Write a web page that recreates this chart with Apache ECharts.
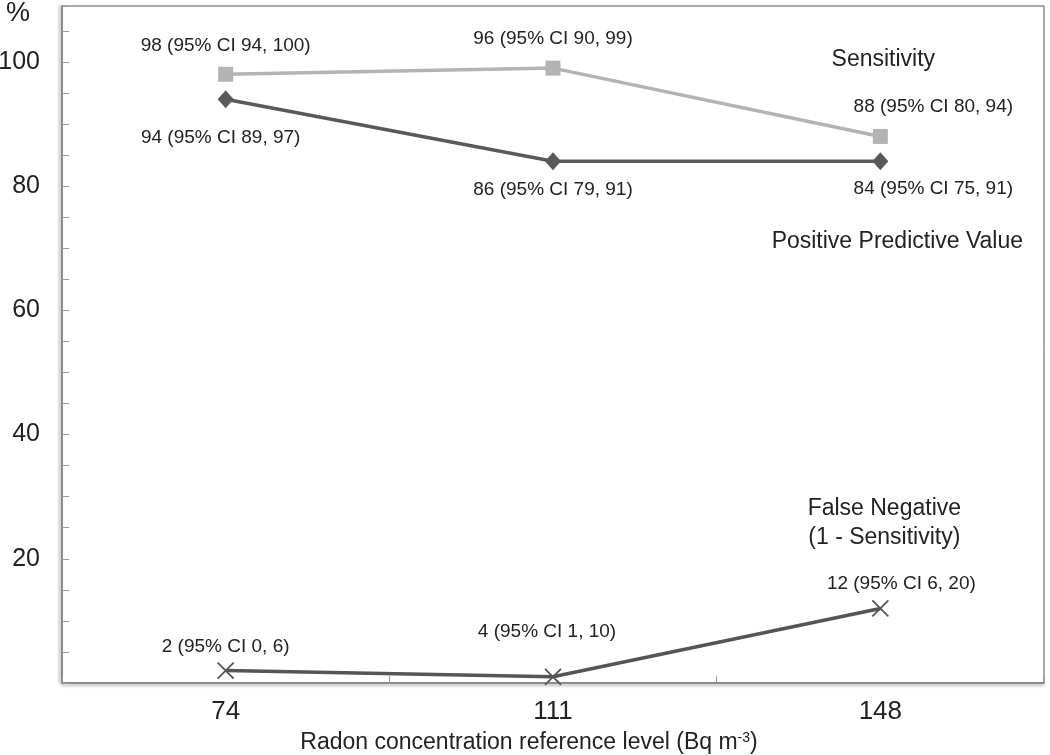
<!DOCTYPE html>
<html>
<head>
<meta charset="utf-8">
<script src="https://cdn.jsdelivr.net/npm/echarts@6/dist/echarts.min.js"></script>
<style>html,body{margin:0;padding:0;background:#fff}#c{width:1050px;height:755px}</style>
</head>
<body>
<div id="c"></div>
<script>
var categories = ['74', '111', '148'];
var sensitivity = [98, 99, 88];
var ppv = [94, 84, 84];
var falseNegative = [2, 1, 12];
var sensLabels = ['98 (95% CI 94, 100)', '96 (95% CI 90, 99)', '88 (95% CI 80, 94)'];
var ppvLabels = ['94 (95% CI 89, 97)', '86 (95% CI 79, 91)', '84 (95% CI 75, 91)'];
var fnLabels = ['2 (95% CI 0, 6)', '4 (95% CI 1, 10)', '12 (95% CI 6, 20)'];
var yTickLabels = [20, 40, 60, 80, 100];

var FONT = 'Liberation Sans, Arial, sans-serif';
var sensOffsets = [[0, -29], [0, -29], [53, -30]];
var ppvOffsets = [[-5, 39], [0, 28], [53, 27]];
var fnOffsets = [[0, -24], [-6, -45], [21, -25]];

function build(values, labels, offsets) {
  return values.map(function (v, i) {
    return {
      value: v,
      label: { show: true, position: 'inside', offset: offsets[i], formatter: labels[i],
               color: '#222', fontSize: 19, fontFamily: FONT }
    };
  });
}

var chart = echarts.init(document.getElementById('c'), null, { renderer: 'canvas' });
var option = {
  animation: false,
  backgroundColor: '#fff',
  grid: { left: 62, right: 6, top: 6, bottom: 72, show: true, borderColor: '#555', borderWidth: 1,
          containLabel: false, outerBoundsMode: 'none' },
  xAxis: {
    type: 'category',
    data: categories,
    boundaryGap: true,
    axisLine: { lineStyle: { color: '#8c8c8c', width: 2, shadowColor: 'rgba(0,0,0,0.3)', shadowBlur: 3, shadowOffsetY: 2 } },
    axisTick: { show: true, inside: true, length: 7, lineStyle: { color: '#999' } },
    axisLabel: { fontSize: 26, color: '#222', fontFamily: FONT, margin: 16 },
    name: '{n|Radon concentration reference level (Bq m}{s|-3}{n|)}',
    nameLocation: 'middle',
    nameGap: 48,
    nameTextStyle: {
      padding: [0, 48, 0, 0],
      rich: {
        n: { fontSize: 23, color: '#222', fontFamily: FONT },
        s: { fontSize: 14, color: '#222', fontFamily: FONT, verticalAlign: 'top', padding: [0, 0, 10, 0] }
      }
    }
  },
  yAxis: {
    type: 'value',
    min: 0,
    max: 109,
    interval: 5,
    splitLine: { show: false },
    axisLine: { show: true, lineStyle: { color: '#8c8c8c', width: 2, shadowColor: 'rgba(0,0,0,0.3)', shadowBlur: 3, shadowOffsetX: -2 } },
    axisTick: { show: true, inside: true, length: 7, lineStyle: { color: '#999' } },
    axisLabel: {
      fontSize: 25, color: '#222', fontFamily: FONT, margin: 22,
      formatter: function (v) { return yTickLabels.indexOf(v) >= 0 ? String(v) : ''; }
    }
  },
  series: [
    {
      name: 'Sensitivity', type: 'line', data: build(sensitivity, sensLabels, sensOffsets),
      symbol: 'rect', symbolSize: 15,
      lineStyle: { color: '#b3b3b3', width: 3.5 },
      itemStyle: { color: '#b3b3b3' }, z: 2
    },
    {
      name: 'Positive Predictive Value', type: 'line', data: build(ppv, ppvLabels, ppvOffsets),
      symbol: 'diamond', symbolSize: [16, 18],
      lineStyle: { color: '#595959', width: 3.5 },
      itemStyle: { color: '#595959' }, z: 3
    },
    {
      name: 'False Negative', type: 'line', data: build(falseNegative, fnLabels, fnOffsets),
      symbol: 'path://M0,0 L10,10 M10,0 L0,10', symbolSize: 16, symbolKeepAspect: true,
      lineStyle: { color: '#555', width: 3.5 },
      itemStyle: { color: '#555', borderColor: '#555', borderWidth: 1.8 }, z: 3
    }
  ]
};
chart.setOption(option);

function px(cat, val) { return chart.convertToPixel({ gridIndex: 0 }, [cat, val]); }
var pS = px(categories[2], sensitivity[2]);
var pP = px(categories[2], ppv[2]);
var pF = px(categories[2], falseNegative[2]);
var nameStyle = { fontSize: 23, fill: '#222', fontFamily: FONT, textAlign: 'center', textVerticalAlign: 'middle' };
chart.setOption({
  graphic: [
    { type: 'text', left: 6, top: 0, style: { text: '%', fontSize: 27, fill: '#222', fontFamily: FONT } },
    { type: 'text', x: pS[0] + 3, y: pS[1] - 77, style: Object.assign({ text: 'Sensitivity' }, nameStyle) },
    { type: 'text', x: pP[0] + 17, y: pP[1] + 80, style: Object.assign({ text: 'Positive Predictive Value' }, nameStyle) },
    { type: 'text', x: pF[0] + 4, y: pF[1] - 100, style: Object.assign({ text: 'False Negative' }, nameStyle) },
    { type: 'text', x: pF[0] + 4, y: pF[1] - 71, style: Object.assign({ text: '(1 - Sensitivity)' }, nameStyle) }
  ]
});
</script>
</body>
</html>
